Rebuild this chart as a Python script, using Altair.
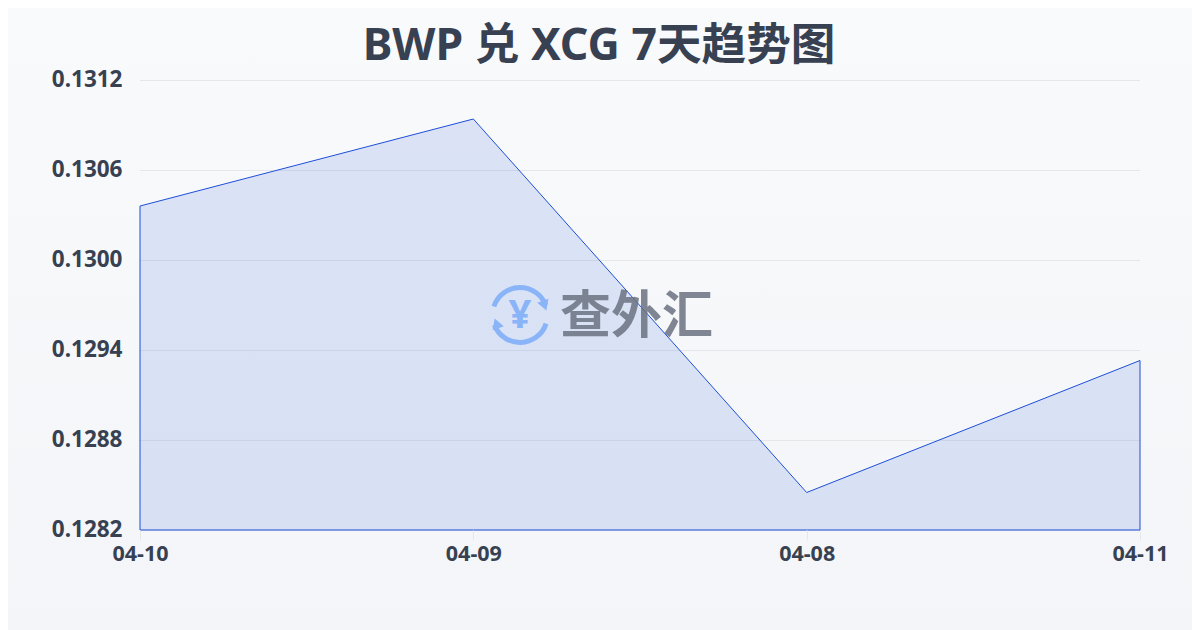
import altair as alt
import pandas as pd

dates = ["04-10", "04-09", "04-08", "04-11"]
rates = [0.13036, 0.13094, 0.12845, 0.12933]
y_ticks = [0.1282, 0.1288, 0.1294, 0.13, 0.1306, 0.1312]
y_domain = [0.1282, 0.1312]
title_text = "BWP 兑 XCG 7天趋势图"
watermark = "查外汇"
FONT = "Noto Sans, Noto Sans CJK SC, sans-serif"
INK = "#374151"
BLUE = "#1d4ed8"
ICON = "#8ab4f8"

df = pd.DataFrame({"date": dates, "rate": rates})
grid_df = pd.DataFrame({"rate": y_ticks})
one = pd.DataFrame({"a": [0]})

x_ax = alt.X(
    "date:N",
    sort=dates,
    scale=alt.Scale(type="point", padding=0),
    axis=alt.Axis(
        title=None, labelAngle=0, labelFont=FONT, labelFontSize=21.5, labelFontWeight="bold",
        labelColor=INK, labelPadding=3, labelBound=False, labelFlush=False, grid=False,
        domain=False, tickSize=10, tickColor="#e5e7eb", zindex=1,
    ),
)
y_ax = alt.Y(
    "rate:Q",
    scale=alt.Scale(domain=y_domain, nice=False, zero=False),
    axis=alt.Axis(
        title=None, values=y_ticks, format=".4f", labelFont=FONT, labelFontSize=22.5,
        labelFontWeight="bold", labelColor=INK, labelPadding=18, ticks=False, domain=False,
        grid=False, zindex=1, labelOffset=-1,
    ),
)

bg = alt.Chart(one).mark_rect(
    color=alt.Gradient(
        gradient="linear", x1=0, y1=0, x2=0, y2=1,
        stops=[alt.GradientStop(offset=0, color="#f8fafc"), alt.GradientStop(offset=1, color="#f3f5f8")],
    )
).encode(x=alt.value(-132), x2=alt.value(1052), y=alt.value(-72), y2=alt.value(550))

grid = alt.Chart(grid_df).mark_rule(color="#e5e7eb", strokeWidth=1, yOffset=0.5).encode(
    y=alt.Y("rate:Q", scale=alt.Scale(domain=y_domain, nice=False, zero=False)),
    x=alt.value(0), x2=alt.value(1000),
)

area = alt.Chart(df).mark_area(
    fill=BLUE, fillOpacity=0.13, stroke=BLUE, strokeWidth=1
).encode(x=x_ax, y=y_ax, y2=alt.Y2(datum=y_domain[0]))

title_mark = alt.Chart(one).mark_text(
    text=title_text, font=FONT, fontSize=44.6, fontWeight="bold", color=INK,
    align="center", baseline="middle",
).encode(x=alt.value(459), y=alt.value(-33))

wm_text = alt.Chart(one).mark_text(
    text=watermark, font=FONT, fontSize=51, fontWeight="bold", color="#6b7280",
    opacity=0.85, align="left", baseline="middle",
).encode(x=alt.value(420), y=alt.value(238))

yen = alt.Chart(one).mark_text(
    text="¥", font=FONT, fontSize=40, fontWeight="bold", color=ICON, align="center", baseline="middle",
).encode(x=alt.value(380), y=alt.value(236))

def arc(t0, t1):
    return alt.Chart(one).mark_arc(
        radius=30, radius2=25, theta=t0, theta2=t1, color=ICON
    ).encode(x=alt.value(380), y=alt.value(235))

arc_top_l = arc(5.03, 6.2832)
arc_top_r = arc(0, 1.2)
arc_bot = arc(1.89, 4.34)
arrow_r = alt.Chart(one).mark_point(
    shape="triangle", filled=True, size=140, angle=160, color=ICON, opacity=1
).encode(x=alt.value(404), y=alt.value(224))
arrow_l = alt.Chart(one).mark_point(
    shape="triangle", filled=True, size=140, angle=340, color=ICON, opacity=1
).encode(x=alt.value(357), y=alt.value(245))

chart = alt.layer(
    bg, grid, area, title_mark, wm_text, yen, arc_top_l, arc_top_r, arc_bot, arrow_r, arrow_l
).properties(
    width=1000,
    height=450,
    background="#f6f8fa",
    autosize=alt.AutoSizeParams(type="none"),
    padding={"left": 132, "top": 72, "right": 52, "bottom": 100},
).configure_view(stroke=None)

chart.save("out.html", embed_options={"renderer": "svg", "actions": False})
